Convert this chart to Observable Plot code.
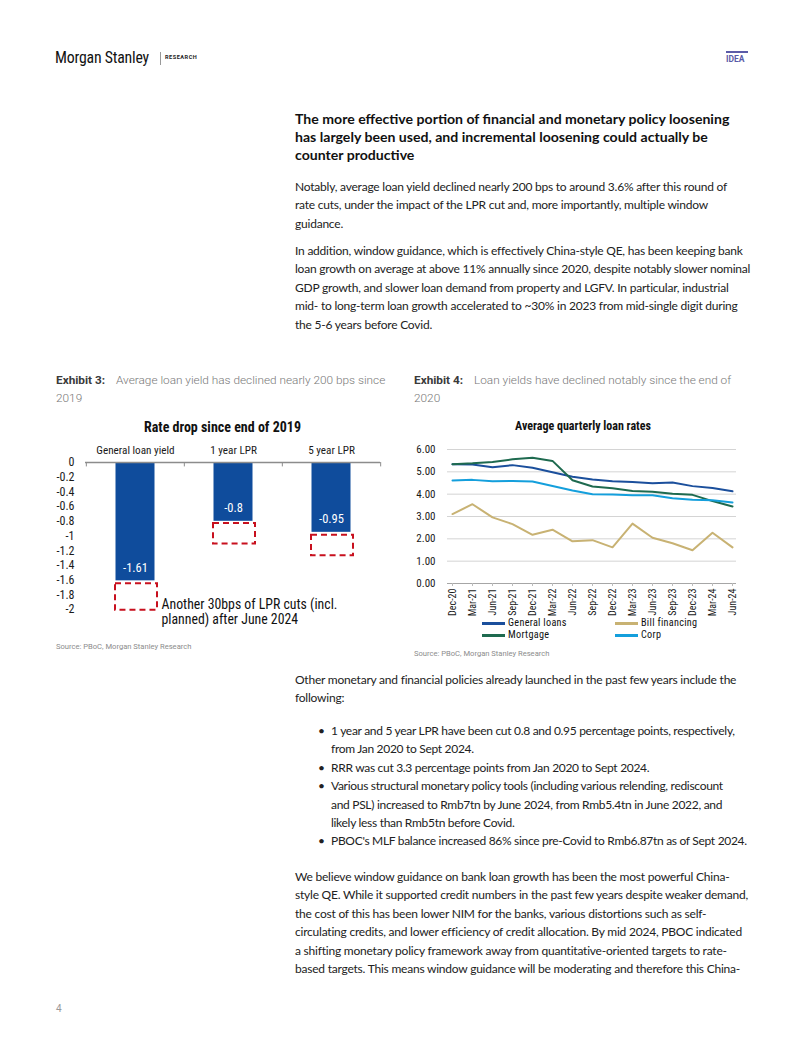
<!DOCTYPE html>
<html><head><meta charset="utf-8">
<script src="https://cdn.jsdelivr.net/npm/d3@7"></script>
<script src="https://cdn.jsdelivr.net/npm/@observablehq/plot@0.6"></script>
<style>
html,body{margin:0;padding:0;background:#fff;}
#page{position:relative;width:802px;height:1037px;overflow:hidden;font-family:Lato,"Noto Sans",sans-serif;color:#1a1a1a;}
.abs{position:absolute;white-space:nowrap;}
.body{font-size:12px;letter-spacing:-0.22px;line-height:18.4px;color:#222;}
.head{font-size:14.1px;line-height:18px;font-weight:700;color:#111;}
.exh{font-family:Roboto,sans-serif;font-size:11.8px;line-height:18px;color:#777;font-weight:300;}
.exh b{color:#3a3a3a;font-weight:700;display:inline-block;width:60px;}
.src{font-family:Roboto,sans-serif;font-size:7.6px;color:#8c8c8c;}
.ctitle{font-family:"Roboto Condensed","Liberation Sans Narrow","Arial Narrow",Roboto,sans-serif;font-weight:700;color:#111;}
.leg{font-family:"Roboto Condensed","Liberation Sans Narrow","Arial Narrow",Roboto,sans-serif;font-size:10.2px;letter-spacing:0.3px;line-height:11px;color:#111;}
.leg span.ln{display:inline-block;width:23px;height:2.5px;vertical-align:middle;margin-right:3px;}
.bul{position:absolute;left:-13px;}
</style>
</head><body>
<div id="page">
  <div class="abs" style="left:55px;top:48px;font-family:'Roboto Condensed','Liberation Sans Narrow',Roboto,sans-serif;font-size:15.8px;letter-spacing:-0.2px;color:#111;">Morgan Stanley</div>
  <div class="abs" style="left:160px;top:52px;width:1px;height:13px;background:#999;"></div>
  <div class="abs" style="left:165px;top:54px;font-family:Roboto,sans-serif;font-size:5.6px;font-weight:700;letter-spacing:0.5px;color:#222;">RESEARCH</div>
  <div class="abs" style="left:726px;top:51px;width:22px;height:2px;background:#5b5ba8;"></div>
  <div class="abs" style="left:726px;top:54px;font-family:Roboto,sans-serif;font-size:8.5px;font-weight:700;color:#5b5ba8;">IDEA</div>

  <div class="abs head" style="left:295px;top:110px;">The more effective portion of financial and monetary policy loosening<br>has largely been used, and incremental loosening could actually be<br>counter productive</div>

  <div class="abs body" style="left:295px;top:178px;">Notably, average loan yield declined nearly 200 bps to around 3.6% after this round of<br>rate cuts, under the impact of the LPR cut and, more importantly, multiple window<br>guidance.</div>

  <div class="abs body" style="left:295px;top:242px;">In addition, window guidance, which is effectively China-style QE, has been keeping bank<br>loan growth on average at above 11% annually since 2020, despite notably slower nominal<br>GDP growth, and slower loan demand from property and LGFV. In particular, industrial<br>mid- to long-term loan growth accelerated to ~30% in 2023 from mid-single digit during<br>the 5-6 years before Covid.</div>

  <div class="abs exh" style="left:56px;top:371px;"><b>Exhibit 3:</b>Average loan yield has declined nearly 200 bps since<br>2019</div>
  <div class="abs exh" style="left:414px;top:371px;"><b>Exhibit 4:</b>Loan yields have declined notably since the end of<br>2020</div>

  <div class="abs ctitle" style="left:55px;width:335px;top:419px;text-align:center;font-size:14px;">Rate drop since end of 2019</div>
  <div id="bar" class="abs" style="left:55px;top:410px;"></div>

  <div class="abs ctitle" style="left:410px;width:346px;top:419px;text-align:center;font-size:12px;">Average quarterly loan rates</div>
  <div id="line" class="abs" style="left:410px;top:440px;"></div>
  <div class="abs leg" style="left:482px;top:617px;"><span class="ln" style="background:#1b4f9c"></span>General loans</div>
  <div class="abs leg" style="left:615px;top:617px;"><span class="ln" style="background:#c8b273"></span>Bill financing</div>
  <div class="abs leg" style="left:482px;top:629px;"><span class="ln" style="background:#1e6a4f"></span>Mortgage</div>
  <div class="abs leg" style="left:615px;top:629px;"><span class="ln" style="background:#149fdc"></span>Corp</div>

  <div class="abs src" style="left:56px;top:642px;">Source: PBoC, Morgan Stanley Research</div>
  <div class="abs src" style="left:414px;top:649px;">Source: PBoC, Morgan Stanley Research</div>

  <div class="abs body" style="left:295px;top:671px;">Other monetary and financial policies already launched in the past few years include the<br>following:</div>

  <div class="abs body" style="left:331px;top:722px;letter-spacing:-0.3px;">
    <div style="position:relative"><span class="bul">•</span>1 year and 5 year LPR have been cut 0.8 and 0.95 percentage points, respectively,<br>from Jan 2020 to Sept 2024.</div>
    <div style="position:relative"><span class="bul">•</span>RRR was cut 3.3 percentage points from Jan 2020 to Sept 2024.</div>
    <div style="position:relative"><span class="bul">•</span>Various structural monetary policy tools (including various relending, rediscount<br>and PSL) increased to Rmb7tn by June 2024, from Rmb5.4tn in June 2022, and<br>likely less than Rmb5tn before Covid.</div>
    <div style="position:relative"><span class="bul">•</span>PBOC's MLF balance increased 86% since pre-Covid to Rmb6.87tn as of Sept 2024.</div>
  </div>

  <div class="abs body" style="left:295px;top:868px;">We believe window guidance on bank loan growth has been the most powerful China-<br>style QE. While it supported credit numbers in the past few years despite weaker demand,<br>the cost of this has been lower NIM for the banks, various distortions such as self-<br>circulating credits, and lower efficiency of credit allocation. By mid 2024, PBOC indicated<br>a shifting monetary policy framework away from quantitative-oriented targets to rate-<br>based targets. This means window guidance will be moderating and therefore this China-</div>

  <div class="abs" style="left:56px;top:1003px;font-size:10px;color:#999;font-family:Roboto,sans-serif;">4</div>
</div>
<script>
const CF = '"Roboto Condensed","Liberation Sans Narrow","Arial Narrow",Roboto,sans-serif';

// ---- Exhibit 3 data ----
const barCategories = ["General loan yield", "1 year LPR", "5 year LPR"];
const barValues = [-1.61, -0.8, -0.95];
const boxTop = [-1.65, -0.83, -0.99];
const boxBottom = [-2.01, -1.11, -1.27];
const barYTicks = [0, -0.2, -0.4, -0.6, -0.8, -1, -1.2, -1.4, -1.6, -1.8, -2];
const barAnnotation = "Another 30bps of LPR cuts (incl.\nplanned) after June 2024";

// ---- Exhibit 4 data ----
const quarters = ["Dec-20","Mar-21","Jun-21","Sep-21","Dec-21","Mar-22","Jun-22","Sep-22","Dec-22","Mar-23","Jun-23","Sep-23","Dec-23","Mar-24","Jun-24"];
const generalLoans = [5.34, 5.33, 5.21, 5.30, 5.18, 4.98, 4.78, 4.66, 4.58, 4.54, 4.49, 4.52, 4.36, 4.28, 4.13];
const billFinancing = [3.11, 3.55, 2.96, 2.66, 2.18, 2.41, 1.89, 1.94, 1.62, 2.68, 2.05, 1.80, 1.49, 2.27, 1.62];
const mortgage = [5.34, 5.38, 5.44, 5.56, 5.63, 5.49, 4.62, 4.34, 4.26, 4.14, 4.11, 4.02, 3.97, 3.69, 3.45];
const corp = [4.61, 4.64, 4.58, 4.59, 4.57, 4.37, 4.16, 4.00, 3.98, 3.95, 3.95, 3.82, 3.75, 3.73, 3.63];
const seriesNames = ["General loans", "Bill financing", "Mortgage", "Corp"];
const seriesColors = ["#1b4f9c", "#c8b273", "#1e6a4f", "#149fdc"];
const lineYTicks = [0, 1, 2, 3, 4, 5, 6];

// ---- Exhibit 3 chart ----
const bars = barCategories.map((c, i) => ({cat: c, value: barValues[i], top: boxTop[i], bottom: boxBottom[i]}));
const W1 = 335, H1 = 215, ML1 = 30, MR1 = 10, MT1 = 52, MB1 = 16;
const halfBand = (W1 - ML1 - MR1) / barCategories.length / 2;
const barChart = Plot.plot({
  width: W1, height: H1, marginLeft: ML1, marginRight: MR1, marginTop: MT1, marginBottom: MB1,
  style: {fontFamily: CF, fontSize: "12px", color: "#1a1a1a", background: "transparent", overflow: "visible"},
  x: {type: "band", domain: barCategories, padding: 0, label: null},
  y: {domain: [-2, 0], label: null},
  marks: [
    Plot.axisY({ticks: barYTicks, tickFormat: d => String(d), tickSize: 0, tickPadding: 11, fontSize: 12, label: null}),
    Plot.axisX({anchor: "top", tickSize: 0, tickPadding: 9, fontSize: 11.2, label: null}),
    Plot.barY(bars, {x: "cat", y: "value", fill: "#0f4c9c", insetLeft: 29.5, insetRight: 29.5}),
    Plot.barY(bars, {x: "cat", y1: "top", y2: "bottom", fill: "none", stroke: "#c8101e", strokeWidth: 2, strokeDasharray: "6,4", insetLeft: 29, insetRight: 27}),
    Plot.ruleY([0], {stroke: "#8c8c8c", strokeWidth: 1.5}),
    Plot.ruleX(barCategories, {x: d => d, y1: 0, y2: -0.06, dx: -halfBand, stroke: "#8c8c8c"}),
    Plot.ruleX([barCategories[barCategories.length - 1]], {x: d => d, y1: 0, y2: -0.06, dx: halfBand, stroke: "#8c8c8c"}),
    Plot.text(bars, {x: "cat", y: "value", text: d => String(d.value), dy: -13, fill: "white", fontSize: 12.5}),
    Plot.text([barAnnotation], {x: () => barCategories[0], y: -2.03, text: d => d, dx: 26, textAnchor: "start", fontSize: 13.8, lineHeight: 1.1, fill: "#111"})
  ]
});
document.getElementById("bar").appendChild(barChart);

// ---- Exhibit 4 chart ----
const seriesValues = [generalLoans, billFinancing, mortgage, corp];
const lineData = seriesNames.flatMap((s, k) => quarters.map((q, i) => ({q, v: seriesValues[k][i], s})));
const W2 = 350, H2 = 183;
const lineChart = Plot.plot({
  width: W2, height: H2, marginLeft: 37, marginRight: 24, marginTop: 9, marginBottom: 40,
  style: {fontFamily: CF, fontSize: "11px", color: "#1a1a1a", background: "transparent", overflow: "visible"},
  x: {type: "point", domain: quarters, padding: 0, label: null},
  y: {domain: [0, 6], label: null},
  color: {domain: seriesNames, range: seriesColors},
  marks: [
    Plot.gridY({ticks: lineYTicks, stroke: "#d4d4d4", strokeOpacity: 1}),
    Plot.axisY({ticks: lineYTicks, tickFormat: d => d.toFixed(2), tickSize: 0, tickPadding: 12, fontSize: 11, label: null}),
    Plot.ruleY([0], {stroke: "#a6a6a6", strokeWidth: 1}),
    Plot.axisX({tickRotate: -90, tickSize: 3, tickPadding: 2, fontSize: 10, stroke: "#bbb", label: null}),
    Plot.line(lineData, {x: "q", y: "v", z: "s", stroke: "s", strokeWidth: 2})
  ]
});
document.getElementById("line").appendChild(lineChart);
</script>
</body></html>
